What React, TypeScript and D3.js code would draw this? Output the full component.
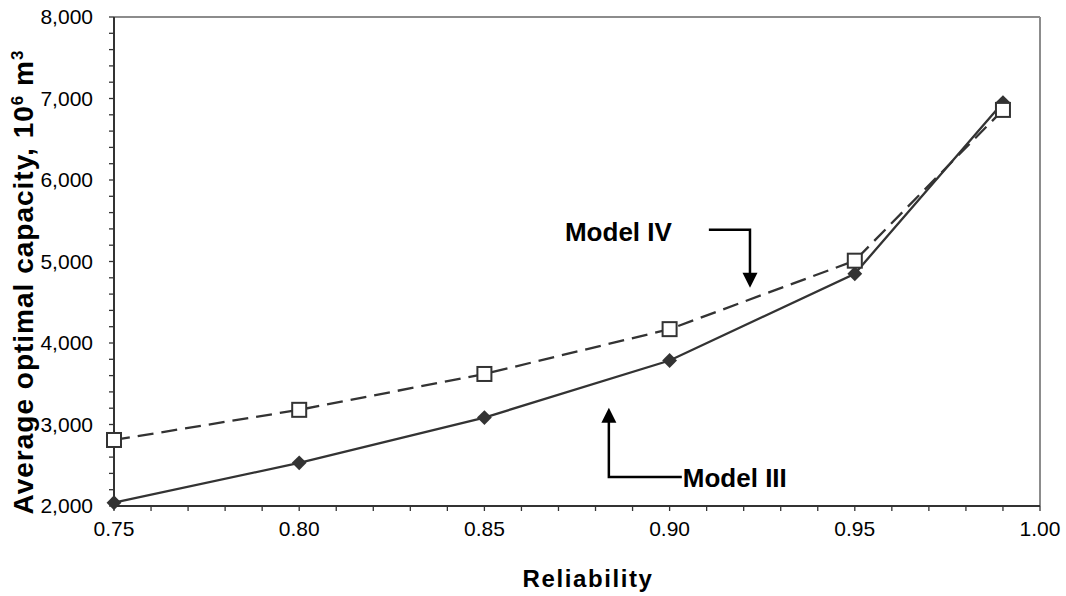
import React from 'react';
import * as d3 from 'd3';

const reliability = [0.75, 0.8, 0.85, 0.9, 0.95, 0.99];
const modelIII = [2040, 2530, 3085, 3785, 4850, 6950];
const modelIV = [2810, 3180, 3620, 4170, 5010, 6860];
const xTicks = [0.75, 0.8, 0.85, 0.9, 0.95, 1.0];
const yTicks = [2000, 3000, 4000, 5000, 6000, 7000, 8000];

const width = 1066;
const height = 596;
const margin = { top: 17, right: 26, bottom: 90, left: 114 };
const ink = '#333333';
const font = 'Arial, "Liberation Sans", sans-serif';

export default function App() {
  const x = d3.scaleLinear().domain([0.75, 1.0]).range([margin.left, width - margin.right]);
  const y = d3.scaleLinear().domain([2000, 8000]).range([height - margin.bottom, margin.top]);

  const line = d3.line<number>()
    .x((d, i) => x(reliability[i]))
    .y(d => y(d));

  const minorX = d3.range(75, 101).map(v => v / 100);
  const minorY = d3.range(2000, 8001, 200);
  const x0 = x(0.75);
  const x1 = x(1.0);
  const y0 = y(2000);
  const y1 = y(8000);

  // annotation arrows, in data units
  const ivLineY = y(5390);
  const ivStart = x(0.9106);
  const ivCorner = x(0.9217);
  const ivTip = y(4678);
  const iiiX = x(0.8836);
  const iiiTip = y(3204);
  const iiiLineY = y(2356);
  const iiiEnd = x(0.9033);

  return (
    <svg width={width} height={height} style={{ display: 'block', position: 'absolute', left: 0, top: 0 }}>
      <rect width={width} height={height} fill="#fff" />
      {/* frame */}
      <line x1={x0} x2={x1} y1={y1} y2={y1} stroke="#8c8c8c" strokeWidth={2} />
      <line x1={x1} x2={x1} y1={y1} y2={y0} stroke="#8c8c8c" strokeWidth={2} />
      <line x1={x0} x2={x1} y1={y0} y2={y0} stroke={ink} strokeWidth={2} />
      <line x1={x0} x2={x0} y1={y1} y2={y0} stroke={ink} strokeWidth={2} />
      {minorX.map(v => (
        <line key={'mx' + v} x1={x(v)} x2={x(v)} y1={y0} y2={y0 + 5} stroke={ink} strokeWidth={1.3} />
      ))}
      {minorY.map(v => (
        <line key={'my' + v} x1={x0 - 5} x2={x0} y1={y(v)} y2={y(v)} stroke={ink} strokeWidth={1.3} />
      ))}
      {xTicks.map(v => (
        <text key={'xt' + v} x={x(v)} y={y0 + 30} textAnchor="middle" fontFamily={font} fontSize={21} fill="#000">
          {v.toFixed(2)}
        </text>
      ))}
      {yTicks.map(v => (
        <text key={'yt' + v} x={x0 - 21} y={y(v) + 7} textAnchor="end" fontFamily={font} fontSize={21} fill="#000">
          {d3.format(',')(v)}
        </text>
      ))}
      <text x={588} y={587} textAnchor="middle" fontFamily={font} fontSize={24} fontWeight="bold" letterSpacing={1.6}>
        Reliability
      </text>
      <text transform={`translate(33,282) rotate(-90)`} textAnchor="middle" fontFamily={font} fontSize={28} fontWeight="bold" letterSpacing={1}>
        Average optimal capacity, 10<tspan dy={-10} fontSize={17}>6</tspan><tspan dy={10}> m</tspan><tspan dy={-10} fontSize={17}>3</tspan>
      </text>

      {/* Model III */}
      <path d={line(modelIII) ?? ''} fill="none" stroke={ink} strokeWidth={2.3} />
      {modelIII.map((v, i) => (
        <path key={'d' + i} d={d3.symbol(d3.symbolDiamond2, 140)() ?? ''} transform={`translate(${x(reliability[i])},${y(v)})`} fill={ink} />
      ))}
      {/* Model IV */}
      <path d={line(modelIV) ?? ''} fill="none" stroke={ink} strokeWidth={2.3} strokeDasharray="16,8" />
      {modelIV.map((v, i) => (
        <rect key={'s' + i} x={x(reliability[i]) - 7} y={y(v) - 7} width={14} height={14} fill="#fff" stroke={ink} strokeWidth={2} />
      ))}

      {/* annotations */}
      <text x={ivStart - 37} y={ivLineY + 11} textAnchor="end" fontFamily={font} fontSize={26} fontWeight="bold">Model IV</text>
      <polyline points={`${ivStart},${ivLineY} ${ivCorner},${ivLineY} ${ivCorner},${ivTip - 14}`} fill="none" stroke="#000" strokeWidth={2.5} />
      <path d={`M${ivCorner - 7.5},${ivTip - 15} L${ivCorner + 7.5},${ivTip - 15} L${ivCorner},${ivTip} Z`} fill="#000" />

      <text x={iiiEnd + 1} y={iiiLineY + 10} fontFamily={font} fontSize={26} fontWeight="bold">Model III</text>
      <polyline points={`${iiiEnd},${iiiLineY} ${iiiX},${iiiLineY} ${iiiX},${iiiTip + 14}`} fill="none" stroke="#000" strokeWidth={2.5} />
      <path d={`M${iiiX - 7.5},${iiiTip + 15} L${iiiX + 7.5},${iiiTip + 15} L${iiiX},${iiiTip} Z`} fill="#000" />
    </svg>
  );
}
